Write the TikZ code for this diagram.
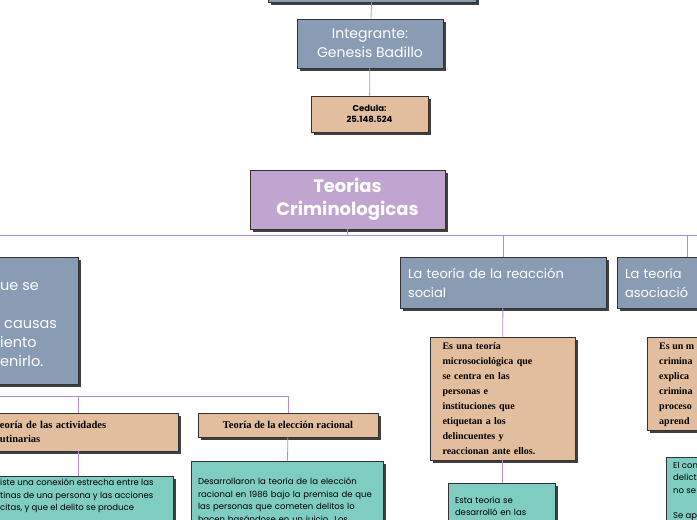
\documentclass[tikz,border=0pt]{standalone}
\usepackage{fontspec}
\setmainfont{Poppins}
\newfontfamily\slabfont{Liberation Serif}
\usepackage{tikz}
\usetikzlibrary{positioning,shadows,calc}

\definecolor{slate}{HTML}{8A9BB4}
\definecolor{tan}{HTML}{E2BE9E}
\definecolor{lila}{HTML}{C0A5D0}
\definecolor{teal2}{HTML}{7ECDC0}
\definecolor{linea}{HTML}{B48CD2}

\tikzset{
  caja/.style={draw=black!80, line width=0.8pt, inner sep=0pt,
    drop shadow={shadow xshift=2.5pt, shadow yshift=-2.5pt, opacity=1, fill=black!75}},
  gris/.style={caja, fill=slate, text=white},
  beige/.style={caja, fill=tan},
  morado/.style={caja, fill=lila, text=white},
  verde/.style={caja, fill=teal2},
  rama/.style={linea, line width=0.8pt}
}

\begin{document}
\begin{tikzpicture}[x=1pt,y=-1pt]
    \useasboundingbox (0,0) rectangle (697,520);
    \clip (0,0) rectangle (697,520);

    % Cajas superiores
    \node[gris, minimum width=208pt, minimum height=20pt] (titulo) at (372,-8) {};
    \node[gris, minimum width=146pt, minimum height=49pt, align=center, font=\fontsize{14}{19}\selectfont]
        (integrante) at (370,43.5) {Integrante:\\Genesis Badillo};
    \node[beige, minimum width=117pt, minimum height=36pt, align=center, font=\fontsize{8.5}{11}\selectfont\bfseries]
        (cedula) at (369.5,114) {Cedula:\\25.148.524};
    \node[morado, minimum width=195pt, minimum height=59pt, align=center, font=\fontsize{18}{23}\selectfont\bfseries]
        (teorias) at (347.5,199.5) {Teorias\\Criminologicas};

    % Ramas principales
    \node[gris, minimum width=120pt, minimum height=127pt] (izq) at (18,320.5) {};
    \node[gris, minimum width=206pt, minimum height=51pt, text width=190pt, align=left, font=\fontsize{13}{19}\selectfont]
        (reaccion) at (503,282.5) {La teoría de la reacción\\social};
    \node[gris, minimum width=140pt, minimum height=51pt, text width=124pt, align=left, font=\fontsize{13}{19}\selectfont]
        (asociacion) at (687,282.5) {La teoría\\asociació};

    \node[anchor=north west, inner sep=0pt, text=white, align=left, font=\fontsize{14.5}{19}\selectfont]
        (izqtexto) at (0,282) {ue se\\ \\ \hspace*{4pt}causas\\iento\\enirlo.};

    % Subramas izquierda
    \node[beige, minimum width=240pt, minimum height=38pt, text width=226pt, align=left, font=\slabfont\fontsize{10.5}{14}\selectfont\bfseries]
        (rutinarias) at (58,432) {\hspace*{55pt}eoría de las actividades\\\hspace*{55pt}utinarias};
    \node[beige, minimum width=180pt, minimum height=24pt, align=center, font=\slabfont\fontsize{10.5}{14}\selectfont\bfseries]
        (racional) at (288,425) {Teoría de la elección racional};

    \node[verde, minimum width=233pt, minimum height=60pt] (rutverde) at (56.5,506) {};
    \node[anchor=north west, inner sep=0pt, align=left, font=\fontsize{8.5}{12.5}\selectfont]
        (rutvtexto) at (0,479) {iste una conexión estrecha entre las\\tinas de una persona y las acciones\\citas, y que el delito se produce};
    \node[verde, minimum width=192pt, minimum height=80pt, text width=178pt, align=left, font=\fontsize{8.5}{12.5}\selectfont]
        (racverde) at (287,501) {Desarrollaron la teoría de la elección\\racional en 1986 bajo la premisa de que\\las personas que cometen delitos lo\\hacen basándose en un juicio. Los};

    % Subramas centro y derecha
    \node[beige, minimum width=145pt, minimum height=123pt, text width=120pt, align=left, font=\slabfont\fontsize{10}{15}\selectfont\bfseries]
        (micro) at (502.5,398.5) {Es una teoría\\microsociológica que\\se centra en las\\personas e\\instituciones que\\etiquetan a los\\delincuentes y\\reaccionan ante ellos.};
    \node[verde, minimum width=107pt, minimum height=60pt, text width=93pt, align=left, font=\fontsize{8.5}{12.5}\selectfont]
        (decadas) at (501.5,513) {\\[-19pt]Esta teoría se\\desarrolló en las};
    \node[beige, minimum width=80pt, minimum height=93pt] (modelo) at (687,383.5) {};
    \node[anchor=north west, inner sep=0pt, align=left, font=\slabfont\fontsize{10}{15}\selectfont\bfseries]
        (modelotexto) at (659,343) {Es un m\\crimina\\explica\\crimina\\proceso\\aprend};
    \node[verde, minimum width=62pt, minimum height=90pt] (concepto) at (697,502) {};
    \node[anchor=north west, inner sep=0pt, align=left, font=\fontsize{8.5}{12.5}\selectfont]
        (conceptotexto) at (673,462) {El con\\delict\\no se\\ \\Se ap};

    % Conectores
    \draw[rama] (titulo) -- (integrante);
    \draw[rama] (integrante) -- (cedula);
    \draw[rama] (teorias.south) -- ++(0,6) coordinate (eje);
    \draw[rama] (0,235) -- (697,235);
    \draw[rama] (reaccion.north) -- (reaccion.north |- eje);
    \draw[rama] (asociacion.north) -- (asociacion.north |- eje);
    \coordinate (eje2) at (0,396);
    \draw[rama] (eje2) -- (288,396);
    \draw[rama] (78,396) -- (78,413);
    \draw[rama] (racional.north) -- (racional.north |- eje2);
    \draw[rama] (78,451) -- (78,476);
    \draw[rama] (racional) -- (racverde);
    \draw[rama] (reaccion) -- (micro);
    \draw[rama] (micro.south) -- (micro.south |- decadas.north);
\end{tikzpicture}
\end{document}
